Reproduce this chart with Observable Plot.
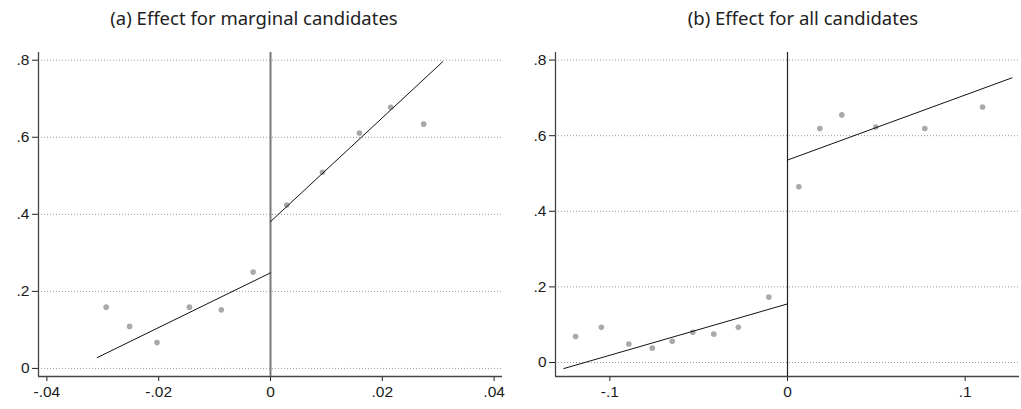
<!DOCTYPE html>
<html>
<head>
<meta charset="utf-8">
<script src="https://cdn.jsdelivr.net/npm/d3@7"></script>
<script src="https://cdn.jsdelivr.net/npm/@observablehq/plot@0.6"></script>
<style>
  html, body { margin: 0; padding: 0; background: #fff; }
  #wrap { position: relative; width: 1021px; height: 409px; overflow: hidden; }
  .title { position: absolute; top: 5px; font-family: "Noto Sans", sans-serif; font-size: 18.5px; line-height: 26px; color: #222; white-space: nowrap; transform: translateX(-50%); }
  .panel { position: absolute; top: 40px; }
  #wrap .panel svg text { font-size: 15.5px !important; font-family: "Liberation Sans", Arial, sans-serif !important; fill: #1a1a1a !important; }
</style>
</head>
<body>
<div id="wrap">
  <div class="title" id="ta" style="left:254px">(a) Effect for marginal candidates</div>
  <div class="title" id="tb" style="left:803px">(b) Effect for all candidates</div>
  <div class="panel" id="pa" style="left:0px"></div>
  <div class="panel" id="pb" style="left:510px"></div>
</div>
<script>
// Panel (a): marginal candidates
const aBinX = [-0.0294, -0.0252, -0.0203, -0.0145, -0.0088, -0.0031, 0.0029, 0.0093, 0.0159, 0.0215, 0.0274];
const aBinY = [0.159, 0.109, 0.067, 0.159, 0.152, 0.250, 0.424, 0.509, 0.611, 0.678, 0.634];
const aFitLeftX = [-0.0310, 0];
const aFitLeftY = [0.028, 0.248];
const aFitRightX = [0, 0.0308];
const aFitRightY = [0.381, 0.796];
const aXTicks = [-0.04, -0.02, 0, 0.02, 0.04];
const aXTickLabels = ["-.04", "-.02", "0", ".02", ".04"];

// Panel (b): all candidates
const bBinX = [-0.1193, -0.1048, -0.0893, -0.0761, -0.0649, -0.0533, -0.0415, -0.0277, -0.0105, 0.0064, 0.0182, 0.0306, 0.0497, 0.0773, 0.1098];
const bBinY = [0.069, 0.093, 0.049, 0.038, 0.056, 0.080, 0.075, 0.093, 0.173, 0.465, 0.619, 0.655, 0.623, 0.619, 0.676];
const bFitLeftX = [-0.1259, 0];
const bFitLeftY = [-0.016, 0.155];
const bFitRightX = [0, 0.1264];
const bFitRightY = [0.5355, 0.753];
const bXTicks = [-0.1, 0, 0.1];
const bXTickLabels = ["-.1", "0", ".1"];

const yTicks = [0, 0.2, 0.4, 0.6, 0.8];
const yTickLabels = ["0", ".2", ".4", ".6", ".8"];

function lab(ticks, labels) {
  return d => { const i = ticks.findIndex(t => Math.abs(t - d) < 1e-9); return i >= 0 ? labels[i] : ""; };
}

function panel(opts) {
  const pts = opts.binX.map((x, i) => ({x, y: opts.binY[i]}));
  const fit = [
    ...opts.fitLX.map((x, i) => ({x, y: opts.fitLY[i], s: "L"})),
    ...opts.fitRX.map((x, i) => ({x, y: opts.fitRY[i], s: "R"}))
  ];
  const svg = Plot.plot({
    width: opts.width,
    height: 369,
    marginTop: 12,
    marginBottom: 33,
    marginLeft: opts.ml,
    marginRight: opts.mr,
    style: {fontFamily: "'Liberation Sans', Arial, sans-serif", fontSize: "15.5px", color: "#222", background: "#fff"},
    x: {domain: opts.xDomain, ticks: opts.xTicks, tickFormat: lab(opts.xTicks, opts.xLabels), tickSize: 5, tickPadding: 4, label: null},
    y: {domain: opts.yDomain, ticks: yTicks, tickFormat: lab(yTicks, yTickLabels), tickSize: 6, tickPadding: 3, label: null},
    marks: [
      Plot.ruleY(yTicks, {stroke: "#9a9a9a", strokeDasharray: "1,2", strokeWidth: 1}),
      Plot.ruleX([opts.xDomain[0]], {stroke: "#444", strokeWidth: 1.3}),
      Plot.ruleY([opts.yDomain[0]], {stroke: "#444", strokeWidth: 1.3}),
      Plot.ruleX([0], {stroke: opts.zeroColor, strokeWidth: opts.zeroWidth}),
      Plot.dot(pts, {x: "x", y: "y", r: 2.8, fill: "#a9a9a9", stroke: "none"}),
      Plot.line(fit, {x: "x", y: "y", z: "s", stroke: "#111", strokeWidth: 1})
    ]
  });
  svg.querySelectorAll("text").forEach(t => {
    t.setAttribute("font-size", "15.5");
    t.style.setProperty("font-size", "15.5px", "important");
  });
  svg.querySelectorAll("g").forEach(g => {
    if (g.getAttribute("font-size")) g.setAttribute("font-size", "15.5");
  });
  return svg;
}

document.getElementById("pa").appendChild(panel({
  width: 510, ml: 38, mr: 8,
  xDomain: [-0.0415, 0.0415], yDomain: [-0.021, 0.82],
  xTicks: aXTicks, xLabels: aXTickLabels,
  binX: aBinX, binY: aBinY,
  fitLX: aFitLeftX, fitLY: aFitLeftY, fitRX: aFitRightX, fitRY: aFitRightY,
  zeroColor: "#7a7a7a", zeroWidth: 2
}));
document.getElementById("pb").appendChild(panel({
  width: 511, ml: 45, mr: 2,
  xDomain: [-0.1306, 0.1306], yDomain: [-0.037, 0.82],
  xTicks: bXTicks, xLabels: bXTickLabels,
  binX: bBinX, binY: bBinY,
  fitLX: bFitLeftX, fitLY: bFitLeftY, fitRX: bFitRightX, fitRY: bFitRightY,
  zeroColor: "#222", zeroWidth: 1.2
}));
</script>
</body>
</html>
